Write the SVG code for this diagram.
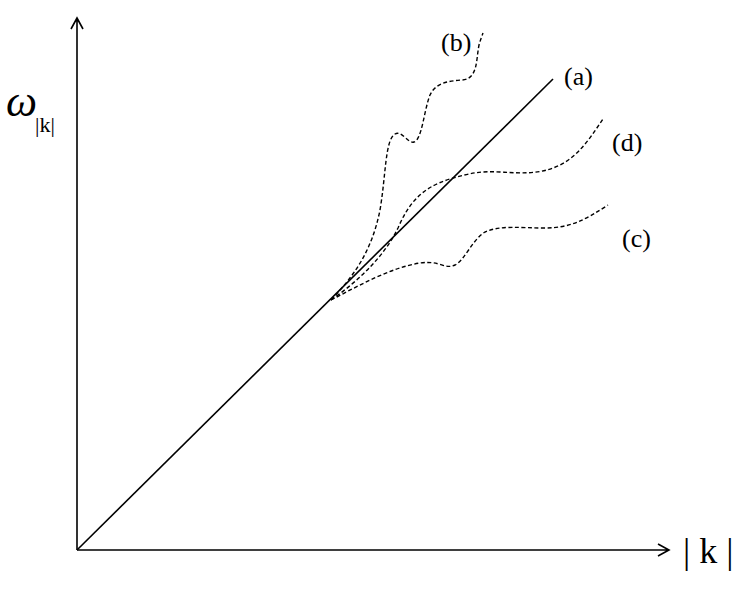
<svg xmlns="http://www.w3.org/2000/svg" width="748" height="594" viewBox="0 0 748 594">
<style>
.ax{stroke:#000;stroke-width:1.6;fill:none}
.sol{stroke:#000;stroke-width:1.6;fill:none}
.dash{stroke:#000;stroke-width:1.4;fill:none;stroke-dasharray:4 2.5}
.t{font-family:"Liberation Serif","Times New Roman",serif;fill:#000}
</style>
<rect width="748" height="594" fill="#fff"/>
<g id="axes">
<path class="ax" d="M77,550 V18 M71,29 L77,18 L83,29"/>
<path class="ax" d="M77,550 H669 M658,544 L669,550 L658,556"/>
</g>
<g id="connectors">
<path id="a" class="sol" d="M77,550 L553,79"/>
<path id="b" class="dash" d="M331,300 C355,275 372,250 380,210 C386,175 385,140 395,134 C402,130 408,144 414,142 C422,140 424,110 430,95 C436,82 450,81 462,80 C478,79 476,60 479,45 C481,38 482,36 483,33"/>
<path id="d" class="dash" d="M331,300 C360,280 385,255 398,228 C408,205 420,188 450,179 C470,173 480,171 500,172 C520,173 540,175 560,165 C580,155 592,135 603,119"/>
<path id="c" class="dash" d="M331,300 C360,285 390,268 420,263 C440,260 445,270 455,265 C465,260 472,240 485,232 C500,225 520,228 545,228 C570,228 585,220 608,205"/>
</g>
<g id="labels">
<text class="t" x="441" y="51" font-size="26">(b)</text>
<text class="t" x="564" y="85" font-size="26">(a)</text>
<text class="t" x="612" y="151" font-size="26">(d)</text>
<text class="t" x="622" y="247" font-size="26">(c)</text>
<text class="t" x="683" y="563" font-size="36">| k |</text>
<text class="t" x="6" y="116" font-size="44" font-style="italic">ω</text>
<text class="t" x="35" y="132" font-size="22">|k|</text>
</g>
</svg>
